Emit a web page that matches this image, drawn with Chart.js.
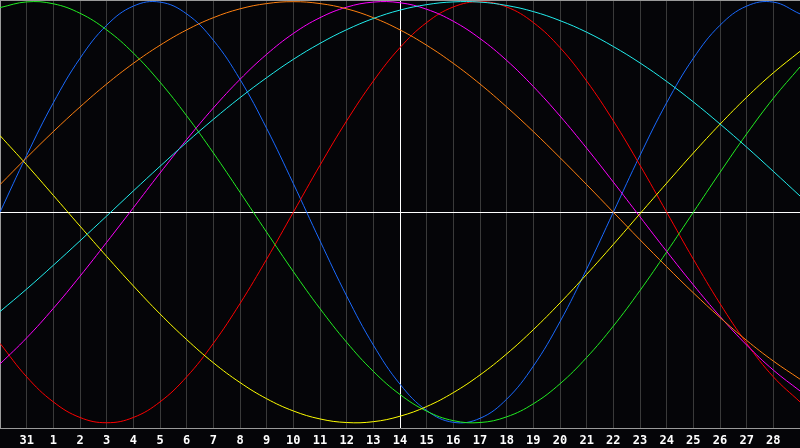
<!DOCTYPE html>
<html lang="en">
<head>
    <meta charset="UTF-8">
    <title>Biorhythm</title>
    <script src="https://cdn.jsdelivr.net/npm/chart.js"></script>
    <style>
        html, body {
            margin: 0;
            padding: 0;
            background-color: #050508;
        }
        .wrap {
            width: 800px;
            height: 448px;
        }
    </style>
</head>
<body>
    <div class="wrap">
        <canvas id="grafico" width="800" height="448"></canvas>
    </div>

    <script>
        // days shown on the axis (first and last are edges, not labelled)
        const days = [30, 31, 1, 2, 3, 4, 5, 6, 7, 8, 9, 10, 11, 12, 13, 14,
                      15, 16, 17, 18, 19, 20, 21, 22, 23, 24, 25, 26, 27, 28, 29];

        // cycle values, one per day, -1 .. 1
        const physical = [0.000, 0.270, 0.520, 0.731, 0.888, 0.979, 0.998, 0.942, 0.817, 0.631, 0.398,
                          0.136, -0.136, -0.398, -0.631, -0.817, -0.942, -0.998, -0.979, -0.888, -0.731,
                          -0.520, -0.270, 0.000, 0.270, 0.520, 0.731, 0.888, 0.979, 0.998, 0.942];
        const emotional = [-0.623, -0.782, -0.901, -0.975, -1.000, -0.975, -0.901, -0.782, -0.623, -0.434, -0.223,
                           0.000, 0.223, 0.434, 0.623, 0.782, 0.901, 0.975, 1.000, 0.975, 0.901,
                           0.782, 0.623, 0.434, 0.223, 0.000, -0.223, -0.434, -0.623, -0.782, -0.901];
        const intellectual = [0.972, 0.999, 0.990, 0.945, 0.866, 0.756, 0.618, 0.458, 0.282, 0.095, -0.095,
                              -0.282, -0.458, -0.618, -0.756, -0.866, -0.945, -0.990, -0.999, -0.972, -0.910,
                              -0.815, -0.690, -0.541, -0.372, -0.189, 0.000, 0.189, 0.372, 0.541, 0.690];
        const intuitive = [-0.721, -0.597, -0.457, -0.304, -0.143, 0.021, 0.186, 0.345, 0.495, 0.631, 0.750,
                           0.849, 0.924, 0.974, 0.998, 0.995, 0.964, 0.907, 0.825, 0.721, 0.597,
                           0.457, 0.304, 0.143, -0.022, -0.186, -0.345, -0.495, -0.631, -0.750, -0.849];
        const aesthetic = [0.364, 0.225, 0.080, -0.066, -0.210, -0.350, -0.483, -0.605, -0.715, -0.809, -0.886,
                           -0.944, -0.982, -0.999, -0.995, -0.969, -0.923, -0.857, -0.773, -0.673, -0.558,
                           -0.431, -0.295, -0.153, -0.007, 0.138, 0.281, 0.418, 0.546, 0.662, 0.764];
        const awareness = [0.131, 0.259, 0.383, 0.500, 0.609, 0.707, 0.793, 0.866, 0.924, 0.966, 0.991,
                           1.000, 0.991, 0.966, 0.924, 0.866, 0.793, 0.707, 0.609, 0.500, 0.383,
                           0.259, 0.131, 0.000, -0.131, -0.259, -0.383, -0.500, -0.609, -0.707, -0.793];
        const spiritual = [-0.472, -0.365, -0.252, -0.136, -0.018, 0.101, 0.218, 0.332, 0.441, 0.544, 0.639,
                           0.726, 0.802, 0.867, 0.920, 0.960, 0.986, 0.999, 0.998, 0.982, 0.953,
                           0.910, 0.855, 0.787, 0.709, 0.621, 0.524, 0.419, 0.309, 0.194, 0.077];

        const series = [
            { nombre: 'Spiritual', datos: spiritual, color: '#22eeee' },
            { nombre: 'Awareness', datos: awareness, color: '#ff8010' },
            { nombre: 'Aesthetic', datos: aesthetic, color: '#ffff00' },
            { nombre: 'Intuitive', datos: intuitive, color: '#ff00ff' },
            { nombre: 'Intellectual', datos: intellectual, color: '#22ee22' },
            { nombre: 'Emotional', datos: emotional, color: '#ff0000' },
            { nombre: 'Physical', datos: physical, color: '#1a6aff' }
        ];

        // thin frame line along the top of the plot
        const marcoSuperior = {
            id: 'marcoSuperior',
            afterDraw(chart) {
                const { ctx, chartArea } = chart;
                ctx.save();
                ctx.strokeStyle = '#9a9a9a';
                ctx.lineWidth = 1;
                ctx.beginPath();
                ctx.moveTo(chartArea.left, chartArea.top + 0.5);
                ctx.lineTo(chartArea.right, chartArea.top + 0.5);
                ctx.stroke();
                ctx.restore();
            }
        };

        const centro = Math.floor(days.length / 2);

        new Chart(document.getElementById('grafico').getContext('2d'), {
            type: 'line',
            data: {
                labels: days.map(String),
                datasets: series.map(s => ({
                    label: s.nombre,
                    data: s.datos,
                    borderColor: s.color,
                    borderWidth: 1,
                    pointRadius: 0,
                    pointHoverRadius: 0,
                    tension: 0.4,
                    capBezierPoints: false,
                    fill: false
                }))
            },
            options: {
                responsive: false,
                animation: false,
                devicePixelRatio: 1,
                layout: { padding: 0, autoPadding: false },
                plugins: {
                    legend: { display: false },
                    tooltip: { enabled: false }
                },
                scales: {
                    x: {
                        offset: false,
                        afterFit: scale => {
                            scale.height = 20;
                            scale.paddingLeft = 0;
                            scale.paddingRight = 0;
                        },
                        border: { color: '#9a9a9a', width: 1 },
                        grid: {
                            drawTicks: false,
                            color: ctx => {
                                if (ctx.index === 0) return '#9a9a9a';
                                if (ctx.index === centro) return '#ffffff';
                                if (ctx.index === days.length - 1) return 'rgba(0,0,0,0)';
                                return '#3a3a3a';
                            }
                        },
                        ticks: {
                            autoSkip: false,
                            maxRotation: 0,
                            padding: 6,
                            color: '#ffffff',
                            font: { family: 'DejaVu Sans Mono', size: 12, weight: 'bold' },
                            callback: (val, i) => (i === 0 || i === days.length - 1) ? '' : days[i]
                        }
                    },
                    y: {
                        min: -1.025,
                        max: 1.008,
                        afterFit: scale => { scale.width = 0; },
                        afterBuildTicks: scale => { scale.ticks = [{ value: 0 }]; },
                        border: { display: false },
                        grid: { drawTicks: false, color: '#ffffff' },
                        ticks: { display: false }
                    }
                }
            },
            plugins: [marcoSuperior]
        });
    </script>
</body>
</html>
